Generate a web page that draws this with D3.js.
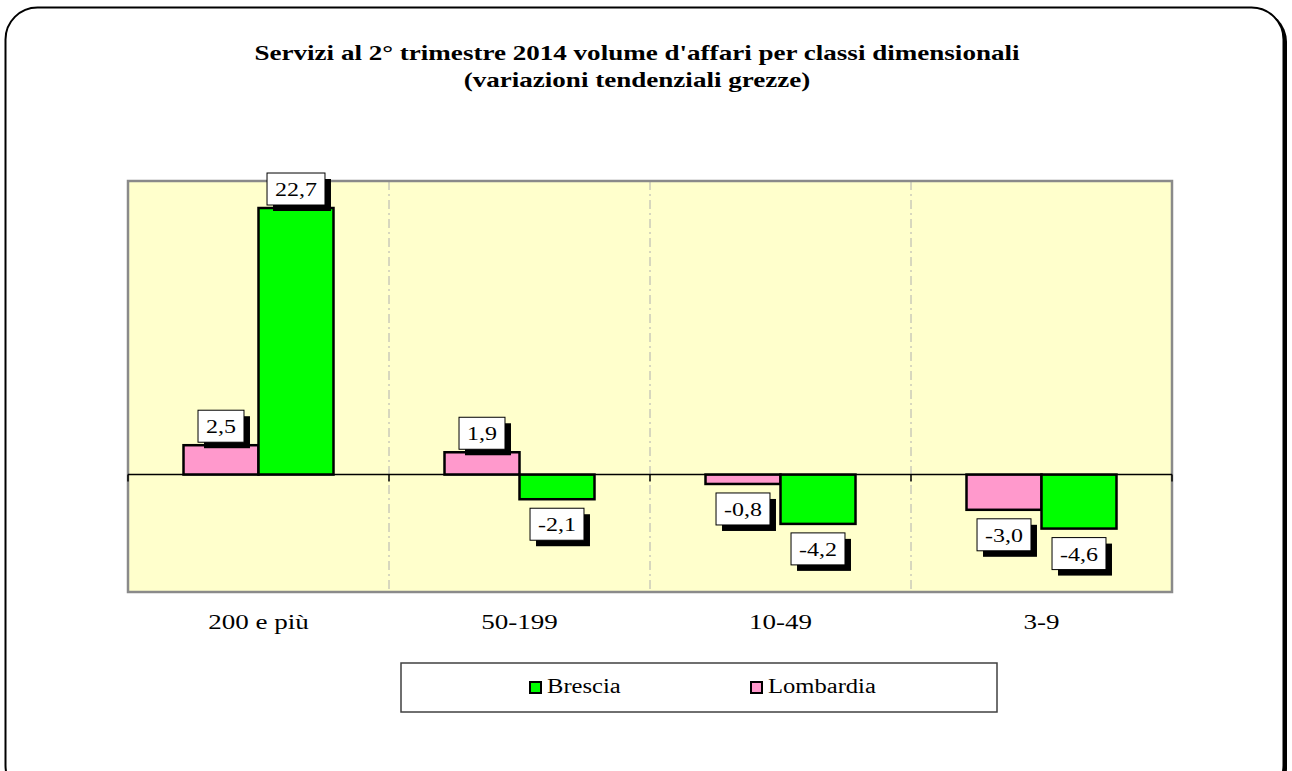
<!DOCTYPE html>
<html>
<head>
<meta charset="utf-8">
<script src="https://cdn.jsdelivr.net/npm/d3@7"></script>
<style>
  html, body { margin: 0; padding: 0; background: #fff; }
  text { font-family: "Liberation Serif", "Times New Roman", serif; }
</style>
</head>
<body>
<div id="chart"></div>
<script>
// data
const categories = ["200 e più", "50-199", "10-49", "3-9"];
const seriesNames = ["Lombardia", "Brescia"];
const lombardia = [2.5, 1.9, -0.8, -3.0];
const brescia = [22.7, -2.1, -4.2, -4.6];
const legendOrder = ["Brescia", "Lombardia"];
const titleLines = ["Servizi al 2° trimestre 2014 volume d'affari per classi dimensionali",
                    "(variazioni tendenziali grezze)"];

const colors = {Lombardia: "#ff99cc", Brescia: "#00ff00"};
const SX = 1.23; // the original picture is stretched horizontally

const W = 1292, H = 771;
const plot = {left: 128, right: 1172, top: 181, bottom: 592};

const svg = d3.select("#chart").append("svg")
  .attr("width", W).attr("height", H);

// outer rounded frame with shadow
svg.append("rect")
  .attr("x", 8).attr("y", 10).attr("width", 1279).attr("height", 790)
  .attr("rx", 32).attr("fill", "#000");
svg.append("rect")
  .attr("x", 5.5).attr("y", 7.5).attr("width", 1278).attr("height", 790)
  .attr("rx", 32).attr("fill", "#fff").attr("stroke", "#000").attr("stroke-width", 2);

// stretched text helper
function stext(g, x, y, str, size, weight, anchor) {
  return g.append("text")
    .attr("transform", `translate(${x},${y}) scale(${SX},1)`)
    .attr("text-anchor", anchor || "middle")
    .style("font-size", size + "px")
    .style("font-weight", weight || "normal")
    .attr("fill", "#000")
    .text(str);
}

// title
titleLines.forEach((t, i) => stext(svg, 637, 60 + i * 27, t, 22, "bold"));

// scales
const x0 = d3.scaleBand().domain(categories).range([plot.left, plot.right]).padding(0);
const x1 = d3.scaleBand().domain(seriesNames).range([0, x0.bandwidth()])
  .paddingInner(0).paddingOuter(0.74);
const y = d3.scaleLinear().domain([-10, 25]).range([plot.bottom, plot.top]);

// plot background
svg.append("rect")
  .attr("x", plot.left).attr("y", plot.top)
  .attr("width", plot.right - plot.left).attr("height", plot.bottom - plot.top)
  .attr("fill", "#ffffcc");

// vertical dashed separators between categories
const bounds = categories.slice(1).map(c => x0(c));
svg.append("g").selectAll("line").data(bounds).join("line")
  .attr("x1", d => d).attr("x2", d => d)
  .attr("y1", plot.top).attr("y2", plot.bottom)
  .attr("stroke", "#b0b0b0").attr("stroke-width", 1)
  .attr("stroke-dasharray", "9,4,2,4");

// plot border
svg.append("rect")
  .attr("x", plot.left).attr("y", plot.top)
  .attr("width", plot.right - plot.left).attr("height", plot.bottom - plot.top)
  .attr("fill", "none").attr("stroke", "#8a8a8a").attr("stroke-width", 2.5);

// bars
const rows = [];
categories.forEach((c, i) => {
  rows.push({cat: c, key: "Lombardia", value: lombardia[i]});
  rows.push({cat: c, key: "Brescia", value: brescia[i]});
});

svg.append("g").selectAll("rect").data(rows).join("rect")
  .attr("x", d => x0(d.cat) + x1(d.key))
  .attr("width", x1.bandwidth())
  .attr("y", d => y(Math.max(0, d.value)))
  .attr("height", d => Math.abs(y(d.value) - y(0)))
  .attr("fill", d => colors[d.key])
  .attr("stroke", "#000").attr("stroke-width", 2.5);

// zero line with ticks at category boundaries
const axisG = svg.append("g").attr("transform", `translate(0,${y(0)})`);
axisG.append("line")
  .attr("x1", plot.left).attr("x2", plot.right)
  .attr("stroke", "#000").attr("stroke-width", 1.5);
axisG.selectAll("line.tick").data([plot.left, ...bounds, plot.right]).join("line")
  .attr("class", "tick")
  .attr("x1", d => d).attr("x2", d => d)
  .attr("y1", 0).attr("y2", 7)
  .attr("stroke", "#000").attr("stroke-width", 1.5);

// category labels
categories.forEach(c => stext(svg, x0(c) + x0.bandwidth() / 2, 629, c, 22));

// data labels: white boxes with black drop shadow
const fmt = v => d3.format(".1f")(v).replace(".", ",").replace("−", "-");
const labG = svg.append("g");
rows.forEach(d => {
  const cx = x0(d.cat) + x1(d.key) + x1.bandwidth() / 2;
  const g = labG.append("g");
  const t = stext(g, 0, 0, fmt(d.value), 19.5);
  const tw = t.node().getComputedTextLength() * SX;
  const bw = tw + 16, bh = 32;
  const by = d.value >= 0 ? y(d.value) - 3 - bh : y(d.value) + 9;
  const bx = cx - bw / 2;
  g.insert("rect", "text")
    .attr("x", bx + 6).attr("y", by + 6).attr("width", bw).attr("height", bh)
    .attr("fill", "#000");
  g.insert("rect", "text")
    .attr("x", bx).attr("y", by).attr("width", bw).attr("height", bh)
    .attr("fill", "#fff").attr("stroke", "#000").attr("stroke-width", 1);
  t.attr("transform", `translate(${cx},${by + 23}) scale(${SX},1)`);
});

// legend
const leg = svg.append("g");
leg.append("rect")
  .attr("x", 401).attr("y", 663).attr("width", 596).attr("height", 49)
  .attr("fill", "#fff").attr("stroke", "#404040").attr("stroke-width", 1.5);
const legX = d3.scalePoint().domain(legendOrder).range([529, 750]);
legendOrder.forEach(k => {
  leg.append("rect")
    .attr("x", legX(k) + 1).attr("y", 682).attr("width", 11).attr("height", 11)
    .attr("fill", colors[k]).attr("stroke", "#000").attr("stroke-width", 2);
  stext(leg, legX(k) + 18, 693, k, 20, "normal", "start");
});
</script>
</body>
</html>
